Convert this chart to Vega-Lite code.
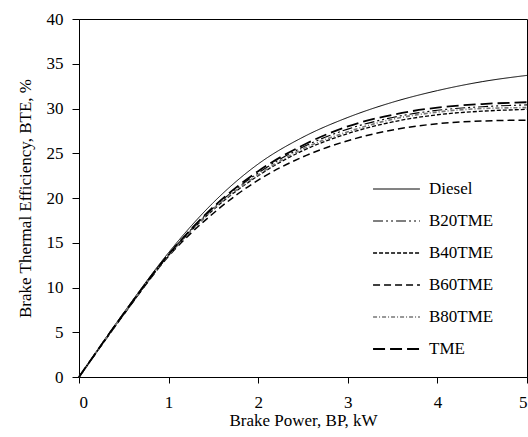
{
  "$schema": "https://vega.github.io/schema/vega-lite/v6.json",
  "width": 448,
  "height": 358,
  "autosize": "none",
  "padding": {"left": 79, "top": 19, "right": 1, "bottom": 60},
  "background": "white",
  "config": {
    "view": {"stroke": "black", "strokeWidth": 1},
    "font": "Liberation Serif",
    "axis": {"labelFont": "Liberation Serif", "titleFont": "Liberation Serif"},
    "legend": {"labelFont": "Liberation Serif", "titleFont": "Liberation Serif"}
  },
  "data": {
    "values": [
      {"bp": 0, "bte": 0, "fuel": "Diesel"},
      {"bp": 0.5, "bte": 7.2, "fuel": "Diesel"},
      {"bp": 1, "bte": 13.9, "fuel": "Diesel"},
      {"bp": 1.5, "bte": 19.5, "fuel": "Diesel"},
      {"bp": 2, "bte": 23.8, "fuel": "Diesel"},
      {"bp": 2.5, "bte": 26.8, "fuel": "Diesel"},
      {"bp": 3, "bte": 29.0, "fuel": "Diesel"},
      {"bp": 3.5, "bte": 30.7, "fuel": "Diesel"},
      {"bp": 4, "bte": 32.0, "fuel": "Diesel"},
      {"bp": 4.5, "bte": 33.0, "fuel": "Diesel"},
      {"bp": 5, "bte": 33.7, "fuel": "Diesel"},

      {"bp": 0, "bte": 0, "fuel": "B20TME"},
      {"bp": 0.5, "bte": 7.1, "fuel": "B20TME"},
      {"bp": 1, "bte": 13.7, "fuel": "B20TME"},
      {"bp": 1.5, "bte": 18.9, "fuel": "B20TME"},
      {"bp": 2, "bte": 22.8, "fuel": "B20TME"},
      {"bp": 2.5, "bte": 25.7, "fuel": "B20TME"},
      {"bp": 3, "bte": 27.7, "fuel": "B20TME"},
      {"bp": 3.5, "bte": 29.0, "fuel": "B20TME"},
      {"bp": 4, "bte": 29.8, "fuel": "B20TME"},
      {"bp": 4.5, "bte": 30.2, "fuel": "B20TME"},
      {"bp": 5, "bte": 30.4, "fuel": "B20TME"},

      {"bp": 0, "bte": 0, "fuel": "B40TME"},
      {"bp": 0.5, "bte": 7.0, "fuel": "B40TME"},
      {"bp": 1, "bte": 13.6, "fuel": "B40TME"},
      {"bp": 1.5, "bte": 18.7, "fuel": "B40TME"},
      {"bp": 2, "bte": 22.5, "fuel": "B40TME"},
      {"bp": 2.5, "bte": 25.3, "fuel": "B40TME"},
      {"bp": 3, "bte": 27.2, "fuel": "B40TME"},
      {"bp": 3.5, "bte": 28.5, "fuel": "B40TME"},
      {"bp": 4, "bte": 29.3, "fuel": "B40TME"},
      {"bp": 4.5, "bte": 29.7, "fuel": "B40TME"},
      {"bp": 5, "bte": 29.9, "fuel": "B40TME"},

      {"bp": 0, "bte": 0, "fuel": "B60TME"},
      {"bp": 0.5, "bte": 7.0, "fuel": "B60TME"},
      {"bp": 1, "bte": 13.5, "fuel": "B60TME"},
      {"bp": 1.5, "bte": 18.3, "fuel": "B60TME"},
      {"bp": 2, "bte": 22.0, "fuel": "B60TME"},
      {"bp": 2.5, "bte": 24.6, "fuel": "B60TME"},
      {"bp": 3, "bte": 26.4, "fuel": "B60TME"},
      {"bp": 3.5, "bte": 27.6, "fuel": "B60TME"},
      {"bp": 4, "bte": 28.3, "fuel": "B60TME"},
      {"bp": 4.5, "bte": 28.6, "fuel": "B60TME"},
      {"bp": 5, "bte": 28.7, "fuel": "B60TME"},

      {"bp": 0, "bte": 0, "fuel": "B80TME"},
      {"bp": 0.5, "bte": 7.1, "fuel": "B80TME"},
      {"bp": 1, "bte": 13.6, "fuel": "B80TME"},
      {"bp": 1.5, "bte": 18.8, "fuel": "B80TME"},
      {"bp": 2, "bte": 22.6, "fuel": "B80TME"},
      {"bp": 2.5, "bte": 25.5, "fuel": "B80TME"},
      {"bp": 3, "bte": 27.4, "fuel": "B80TME"},
      {"bp": 3.5, "bte": 28.8, "fuel": "B80TME"},
      {"bp": 4, "bte": 29.6, "fuel": "B80TME"},
      {"bp": 4.5, "bte": 30.0, "fuel": "B80TME"},
      {"bp": 5, "bte": 30.1, "fuel": "B80TME"},

      {"bp": 0, "bte": 0, "fuel": "TME"},
      {"bp": 0.5, "bte": 7.1, "fuel": "TME"},
      {"bp": 1, "bte": 13.7, "fuel": "TME"},
      {"bp": 1.5, "bte": 19.0, "fuel": "TME"},
      {"bp": 2, "bte": 23.0, "fuel": "TME"},
      {"bp": 2.5, "bte": 25.9, "fuel": "TME"},
      {"bp": 3, "bte": 28.0, "fuel": "TME"},
      {"bp": 3.5, "bte": 29.3, "fuel": "TME"},
      {"bp": 4, "bte": 30.1, "fuel": "TME"},
      {"bp": 4.5, "bte": 30.5, "fuel": "TME"},
      {"bp": 5, "bte": 30.7, "fuel": "TME"}
    ]
  },
  "mark": {"type": "line", "interpolate": "monotone"},
  "encoding": {
    "x": {
      "field": "bp", "type": "quantitative",
      "scale": {"domain": [0, 5], "nice": false},
      "axis": {
        "title": "Brake Power, BP, kW",
        "values": [0, 1, 2, 3, 4, 5],
        "grid": false,
        "domainColor": "black", "tickColor": "black",
        "tickSize": 6, "labelPadding": 11,
        "labelFont": "Liberation Serif", "labelFontSize": 17, "labelColor": "black",
        "titleFont": "Liberation Serif", "titleFontSize": 17, "titleFontWeight": "normal", "titleColor": "black",
        "titlePadding": 2
      }
    },
    "y": {
      "field": "bte", "type": "quantitative",
      "scale": {"domain": [0, 40], "nice": false},
      "axis": {
        "title": "Brake Thermal Efficiency, BTE, %",
        "values": [0, 5, 10, 15, 20, 25, 30, 35, 40],
        "grid": false,
        "domainColor": "black", "tickColor": "black",
        "tickSize": 7, "labelPadding": 9,
        "labelFont": "Liberation Serif", "labelFontSize": 17, "labelColor": "black",
        "titleFont": "Liberation Serif", "titleFontSize": 17, "titleFontWeight": "normal", "titleColor": "black",
        "titlePadding": 12
      }
    },
    "color": {
      "field": "fuel", "type": "nominal",
      "sort": ["Diesel", "B20TME", "B40TME", "B60TME", "B80TME", "TME"],
      "scale": {
        "domain": ["Diesel", "B20TME", "B40TME", "B60TME", "B80TME", "TME"],
        "range": ["black", "black", "black", "black", "#777777", "black"]
      },
      "legend": {
        "title": null,
        "orient": "none",
        "legendX": 293,
        "legendY": 162,
        "symbolType": "stroke",
        "symbolSize": 2200,
        "clipHeight": 16,
        "labelFont": "Liberation Serif",
        "labelFontSize": 17,
        "labelColor": "black",
        "rowPadding": 15,
        "labelOffset": 8
      }
    },
    "strokeDash": {
      "field": "fuel", "type": "nominal",
      "sort": ["Diesel", "B20TME", "B40TME", "B60TME", "B80TME", "TME"],
      "scale": {
        "domain": ["Diesel", "B20TME", "B40TME", "B60TME", "B80TME", "TME"],
        "range": [[1, 0], [10, 3, 2, 3, 2, 3], [4, 2], [7, 4], [4, 2, 1, 2], [12, 5]]
      },
      "legend": null
    },
    "strokeWidth": {
      "field": "fuel", "type": "nominal",
      "sort": ["Diesel", "B20TME", "B40TME", "B60TME", "B80TME", "TME"],
      "scale": {
        "domain": ["Diesel", "B20TME", "B40TME", "B60TME", "B80TME", "TME"],
        "range": [1, 1.8, 1.6, 1.6, 1, 2.2]
      },
      "legend": null
    }
  }
}
